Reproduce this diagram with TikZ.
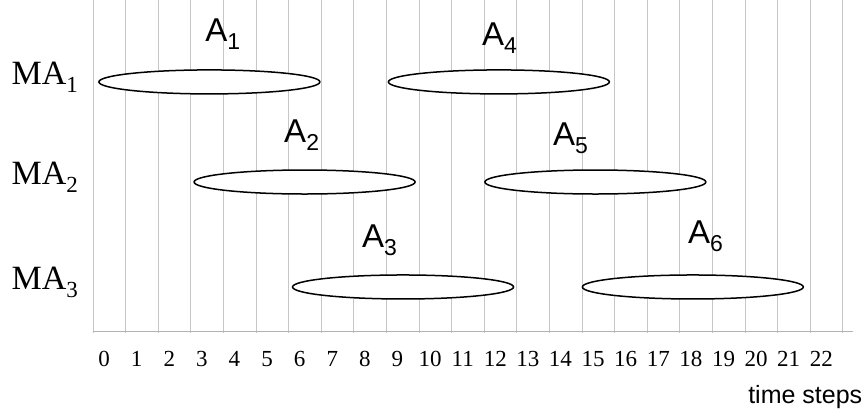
\documentclass[tikz,border=0pt]{standalone}
\usepackage{fontspec}
\setmainfont{Liberation Serif}
\newfontfamily\labelfont{Liberation Sans}
\usetikzlibrary{shapes.geometric}
\newcommand{\lowidx}[1]{\raisebox{-8pt}{\fontsize{23}{23}\selectfont #1}}

\begin{document}
\begin{tikzpicture}[x=32.6pt,y=32.6pt,
  task/.style={ellipse,draw,fill=white,line width=1.5pt,inner sep=0pt,
    minimum width=221pt,minimum height=24pt},
  agent/.style={anchor=base west,inner sep=0pt,font=\fontsize{34}{34}\selectfont},
  tasklabel/.style={anchor=base west,inner sep=0pt,font=\labelfont\fontsize{33}{33}\selectfont},
  tick/.style={anchor=base,inner sep=0pt,font=\fontsize{23}{23}\selectfont}]

% Schedule: three machine agents, six overlapping tasks

\useasboundingbox (-2.853,-2.423) rectangle (23.650,10.153);

\foreach \k in {0,...,23} \draw[gray!45,line width=0.8pt] (\k,-0.06) -- (\k,10.15);
\draw[gray!60,line width=0.8pt] (0,0) -- (23.3,0);
\foreach \k in {0,...,22} \node[tick] (t\k) at (\k+0.34,-1.10) {\k};
\node[tasklabel,anchor=base east,font=\labelfont\fontsize{25}{25}\selectfont] (xlabel) at (23.6,-2.21) {time steps};

\node[agent] (ma1) at (-2.5,7.55) {MA\lowidx{1}};
\node[agent] (ma2) at (-2.5,4.48) {MA\lowidx{2}};
\node[agent] (ma3) at (-2.5,1.26) {MA\lowidx{3}};

\node[task] (e1) at (3.57,7.64) {};
\node[task] (e4) at (12.45,7.64) {};
\node[task] (e2) at (6.49,4.57) {};
\node[task] (e5) at (15.41,4.57) {};
\node[task] (e3) at (9.51,1.35) {};
\node[task] (e6) at (18.40,1.35) {};

\node[tasklabel] (l1) at (3.44,8.87) {A\lowidx{1}};
\node[tasklabel] (l4) at (11.93,8.77) {A\lowidx{4}};
\node[tasklabel] (l2) at (5.86,5.77) {A\lowidx{2}};
\node[tasklabel] (l5) at (14.11,5.68) {A\lowidx{5}};
\node[tasklabel] (l3) at (8.25,2.55) {A\lowidx{3}};
\node[tasklabel] (l6) at (18.25,2.67) {A\lowidx{6}};

\end{tikzpicture}
\end{document}
